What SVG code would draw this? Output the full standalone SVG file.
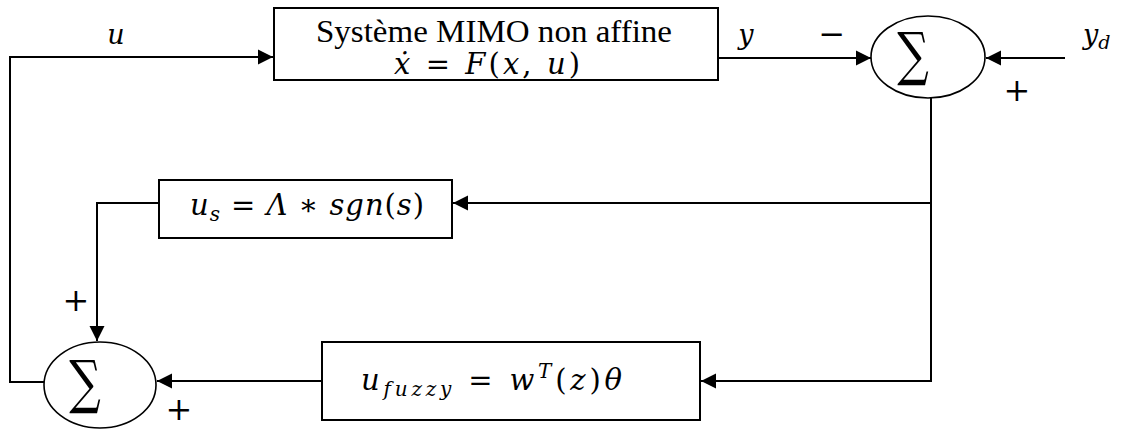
<svg xmlns="http://www.w3.org/2000/svg" width="1121" height="429" viewBox="0 0 1121 429">
<style>
.box{fill:#fff;stroke:#000;stroke-width:2}
.sum{fill:#fff;stroke:#000;stroke-width:1.6}
.ln{fill:none;stroke:#000;stroke-width:2}
.t{font-family:"Liberation Serif",serif;fill:#000}
.m{font-family:"DejaVu Serif",serif;font-style:italic;fill:#000}
.n{font-style:normal}
.op{font-family:"DejaVu Serif",serif;fill:#000;text-anchor:middle}
.sig{font-family:"DejaVu Serif","Liberation Serif",serif;fill:#000;text-anchor:middle}
</style>
<defs>
<marker id="ah" markerUnits="userSpaceOnUse" markerWidth="16" markerHeight="16" viewBox="0 0 16 16" refX="15" refY="8" orient="auto">
<path d="M0,0.5 L15,8 L0,15.5 Z" fill="#000"/>
</marker>
</defs>
<g id="connectors">
<path class="ln" d="M44,382 H10 V57 H273" marker-end="url(#ah)"/>
<path class="ln" d="M718,58 H871" marker-end="url(#ah)"/>
<path class="ln" d="M1065,58 H986" marker-end="url(#ah)"/>
<path class="ln" d="M931,98 V382"/>
<path class="ln" d="M931,203 H453" marker-end="url(#ah)"/>
<path class="ln" d="M931,381 H701" marker-end="url(#ah)"/>
<path class="ln" d="M159,203 H97 V341" marker-end="url(#ah)"/>
<path class="ln" d="M322,381 H157" marker-end="url(#ah)"/>
</g>
<g id="plant">
<rect class="box" x="274" y="8" width="444" height="72"/>
<text class="t" x="316" y="42" font-size="31" textLength="356" lengthAdjust="spacingAndGlyphs">Système MIMO non affine</text>
<text class="m" x="394" y="74" font-size="29" textLength="186" lengthAdjust="spacing">ẋ <tspan class="n">=</tspan> F<tspan class="n">(</tspan>x<tspan class="n">,</tspan> u<tspan class="n">)</tspan></text>
</g>
<g id="sum1">
<ellipse class="sum" cx="928" cy="57" rx="57" ry="41"/>
<text class="sig" transform="translate(913,74) scale(0.85,1.12)" font-size="52">∑</text>
</g>
<g id="sliding">
<rect class="box" x="159" y="180" width="293" height="58"/>
<text class="m" x="190" y="215" font-size="29" textLength="234" lengthAdjust="spacing">u<tspan font-size="20" dy="6">s</tspan><tspan dy="-6" class="n"> = </tspan>Λ<tspan class="n"> ∗ </tspan>sgn<tspan class="n">(</tspan>s<tspan class="n">)</tspan></text>
</g>
<g id="fuzzy">
<rect class="box" x="322" y="342" width="378" height="78"/>
<text class="m" x="361" y="390" font-size="29" textLength="261" lengthAdjust="spacing">u<tspan font-size="20" dy="6">fuzzy</tspan><tspan dy="-6" class="n"> = </tspan>w<tspan font-size="20" dy="-12">T</tspan><tspan dy="12" class="n">(</tspan>z<tspan class="n">)</tspan>θ</text>
</g>
<g id="sum2">
<ellipse class="sum" cx="100" cy="385" rx="56" ry="43"/>
<text class="sig" transform="translate(85,402) scale(0.85,1.12)" font-size="52">∑</text>
</g>
<g id="labels">
<text class="m" x="116" y="44" font-size="27" text-anchor="middle">u</text>
<text class="m" x="746" y="44" font-size="27" text-anchor="middle">y</text>
<text class="op" x="832" y="45" font-size="32">−</text>
<text class="m" x="1083" y="44" font-size="27">y<tspan font-size="19" dy="5">d</tspan></text>
<text class="op" x="1017" y="101" font-size="32">+</text>
<text class="op" x="76" y="311" font-size="32">+</text>
<text class="op" x="179" y="420" font-size="32">+</text>
</g>
</svg>
